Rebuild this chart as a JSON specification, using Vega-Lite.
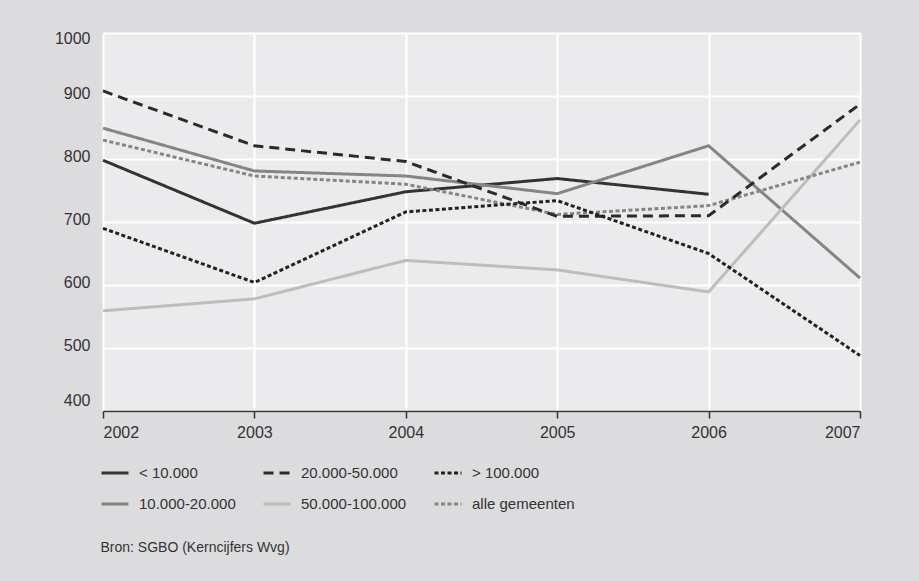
{
  "$schema": "https://vega.github.io/schema/vega-lite/v6.json",
  "width": 757,
  "height": 378,
  "autosize": {"type": "none"},
  "padding": {"left": 103, "top": 33, "right": 59, "bottom": 170},
  "background": "#dcdcde",
  "config": {
    "view": {"fill": "#ebebed", "stroke": null},
    "font": "Liberation Sans"
  },
  "data": {
    "values": [
      {"jaar": 2002, "groep": "< 10.000", "waarde": 798},
      {"jaar": 2003, "groep": "< 10.000", "waarde": 698},
      {"jaar": 2004, "groep": "< 10.000", "waarde": 748},
      {"jaar": 2005, "groep": "< 10.000", "waarde": 769},
      {"jaar": 2006, "groep": "< 10.000", "waarde": 744},
      {"jaar": 2002, "groep": "10.000-20.000", "waarde": 849},
      {"jaar": 2003, "groep": "10.000-20.000", "waarde": 781},
      {"jaar": 2004, "groep": "10.000-20.000", "waarde": 773},
      {"jaar": 2005, "groep": "10.000-20.000", "waarde": 745},
      {"jaar": 2006, "groep": "10.000-20.000", "waarde": 821},
      {"jaar": 2007, "groep": "10.000-20.000", "waarde": 611},
      {"jaar": 2002, "groep": "50.000-100.000", "waarde": 559},
      {"jaar": 2003, "groep": "50.000-100.000", "waarde": 578},
      {"jaar": 2004, "groep": "50.000-100.000", "waarde": 639},
      {"jaar": 2005, "groep": "50.000-100.000", "waarde": 624},
      {"jaar": 2006, "groep": "50.000-100.000", "waarde": 589},
      {"jaar": 2007, "groep": "50.000-100.000", "waarde": 862},
      {"jaar": 2002, "groep": "alle gemeenten", "waarde": 830},
      {"jaar": 2003, "groep": "alle gemeenten", "waarde": 773},
      {"jaar": 2004, "groep": "alle gemeenten", "waarde": 760},
      {"jaar": 2005, "groep": "alle gemeenten", "waarde": 712},
      {"jaar": 2006, "groep": "alle gemeenten", "waarde": 726},
      {"jaar": 2007, "groep": "alle gemeenten", "waarde": 795},
      {"jaar": 2002, "groep": "20.000-50.000", "waarde": 908},
      {"jaar": 2003, "groep": "20.000-50.000", "waarde": 821},
      {"jaar": 2004, "groep": "20.000-50.000", "waarde": 796},
      {"jaar": 2005, "groep": "20.000-50.000", "waarde": 709},
      {"jaar": 2006, "groep": "20.000-50.000", "waarde": 710},
      {"jaar": 2007, "groep": "20.000-50.000", "waarde": 887},
      {"jaar": 2002, "groep": "> 100.000", "waarde": 690},
      {"jaar": 2003, "groep": "> 100.000", "waarde": 604},
      {"jaar": 2004, "groep": "> 100.000", "waarde": 716},
      {"jaar": 2005, "groep": "> 100.000", "waarde": 734},
      {"jaar": 2006, "groep": "> 100.000", "waarde": 650},
      {"jaar": 2007, "groep": "> 100.000", "waarde": 488}
    ]
  },
  "mark": {"type": "line", "strokeWidth": 3, "strokeCap": "butt"},
  "encoding": {
    "x": {
      "field": "jaar",
      "type": "quantitative",
      "scale": {"domain": [2002, 2007], "nice": false, "zero": false},
      "axis": {
        "title": "Bron: SGBO (Kerncijfers Wvg)",
        "titleFont": "Liberation Sans",
        "titleFontSize": 14,
        "titleFontWeight": "normal",
        "titleColor": "#333333",
        "titleAnchor": "start",
        "titleAlign": "left",
        "titleBaseline": "middle",
        "titleX": -3,
        "titleY": 136,
        "values": [2002, 2003, 2004, 2005, 2006, 2007],
        "format": "d",
        "labelFlush": true,
        "labelFontSize": 16,
        "labelColor": "#333333",
        "labelPadding": 6,
        "domainColor": "#333333",
        "domainWidth": 1.5,
        "tickColor": "#333333",
        "tickWidth": 1.5,
        "tickSize": 7,
        "grid": true,
        "gridColor": "#ffffff",
        "gridWidth": 2,
        "gridOpacity": 1
      }
    },
    "y": {
      "field": "waarde",
      "type": "quantitative",
      "scale": {"domain": [400, 1000], "nice": false, "zero": false},
      "axis": {
        "title": null,
        "values": [400, 500, 600, 700, 800, 900, 1000],
        "format": "d",
        "labelFlush": true,
        "labelFontSize": 16,
        "labelColor": "#333333",
        "labelPadding": 13,
        "labelOffset": -3,
        "domain": false,
        "ticks": false,
        "grid": true,
        "gridColor": "#ffffff",
        "gridWidth": 2,
        "gridOpacity": 1
      }
    },
    "color": {
      "field": "groep",
      "type": "nominal",
      "scale": {
        "domain": ["< 10.000", "10.000-20.000", "20.000-50.000", "50.000-100.000", "> 100.000", "alle gemeenten"],
        "range": ["#333333", "#858585", "#2b2b2b", "#bdbdbd", "#222222", "#858585"]
      },
      "legend": {
        "title": null,
        "orient": "none",
        "legendX": -3,
        "legendY": 425,
        "columns": 3,
        "gridAlign": "each",
        "columnPadding": 21,
        "rowPadding": 8,
        "symbolType": "stroke",
        "symbolSize": 729,
        "symbolStrokeWidth": 3,
        "labelFontSize": 15,
        "labelColor": "#333333",
        "labelOffset": 9,
        "labelLimit": 300
      }
    },
    "strokeDash": {
      "field": "groep",
      "type": "nominal",
      "scale": {
        "domain": ["< 10.000", "10.000-20.000", "20.000-50.000", "50.000-100.000", "> 100.000", "alle gemeenten"],
        "range": [[1, 0], [1, 0], [10, 6], [1, 0], [4, 2.5], [4, 2.5]]
      },
      "legend": null
    }
  }
}
